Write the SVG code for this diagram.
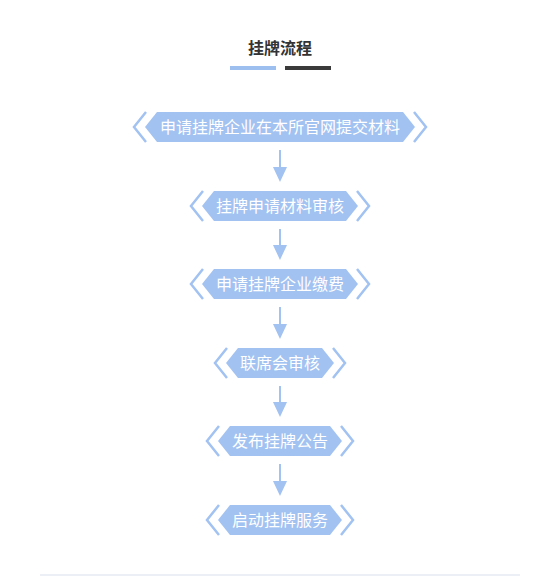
<svg xmlns="http://www.w3.org/2000/svg" width="550" height="576" viewBox="0 0 550 576">
<style>
.hex{fill:#a2c2f1;}
.chev{fill:none;stroke:#a2c2f1;stroke-width:2.5;stroke-linejoin:miter;}
.lbl{font-family:"Noto Sans CJK SC","Noto Sans",sans-serif;font-size:16px;fill:#ffffff;text-anchor:middle;}
.title{font-family:"Noto Sans CJK SC","Noto Sans",sans-serif;font-size:16px;font-weight:bold;fill:#333333;text-anchor:middle;}
.shaft{stroke:#a2c2f1;stroke-width:2;}
.head{fill:#a2c2f1;}
</style>
<rect x="0" y="0" width="550" height="576" fill="#ffffff"/>
<g id="title">
<text class="title" x="280" y="54">挂牌流程</text>
<rect x="230" y="66" width="46" height="4" fill="#9dbff0"/>
<rect x="285" y="66" width="46" height="4" fill="#3a3a3a"/>
</g>
<g id="node1">
<polygon class="hex" points="145,127 157,112 403,112 415,127 403,142 157,142"/>
<polyline class="chev" points="146,112 134,127 146,142"/>
<polyline class="chev" points="414,112 426,127 414,142"/>
<text class="lbl" x="280" y="133">申请挂牌企业在本所官网提交材料</text>
</g>
<g id="node2">
<polygon class="hex" points="202,206 214,191 346,191 358,206 346,221 214,221"/>
<polyline class="chev" points="203,191 191,206 203,221"/>
<polyline class="chev" points="357,191 369,206 357,221"/>
<text class="lbl" x="280" y="212">挂牌申请材料审核</text>
</g>
<g id="node3">
<polygon class="hex" points="202,284 214,269 346,269 358,284 346,299 214,299"/>
<polyline class="chev" points="203,269 191,284 203,299"/>
<polyline class="chev" points="357,269 369,284 357,299"/>
<text class="lbl" x="280" y="290">申请挂牌企业缴费</text>
</g>
<g id="node4">
<polygon class="hex" points="226,363 238,348 322,348 334,363 322,378 238,378"/>
<polyline class="chev" points="227,348 215,363 227,378"/>
<polyline class="chev" points="333,348 345,363 333,378"/>
<text class="lbl" x="280" y="369">联席会审核</text>
</g>
<g id="node5">
<polygon class="hex" points="218,441 230,426 330,426 342,441 330,456 230,456"/>
<polyline class="chev" points="219,426 207,441 219,456"/>
<polyline class="chev" points="341,426 353,441 341,456"/>
<text class="lbl" x="280" y="447">发布挂牌公告</text>
</g>
<g id="node6">
<polygon class="hex" points="218,520 230,505 330,505 342,520 330,535 230,535"/>
<polyline class="chev" points="219,505 207,520 219,535"/>
<polyline class="chev" points="341,505 353,520 341,535"/>
<text class="lbl" x="280" y="526">启动挂牌服务</text>
</g>
<g id="connectors">
<line class="shaft" x1="280" y1="150" x2="280" y2="168"/>
<polygon class="head" points="273,167 287,167 280,182"/>
<line class="shaft" x1="280" y1="229" x2="280" y2="246"/>
<polygon class="head" points="273,245 287,245 280,260"/>
<line class="shaft" x1="280" y1="307" x2="280" y2="325"/>
<polygon class="head" points="273,324 287,324 280,339"/>
<line class="shaft" x1="280" y1="386" x2="280" y2="403"/>
<polygon class="head" points="273,402 287,402 280,417"/>
<line class="shaft" x1="280" y1="464" x2="280" y2="482"/>
<polygon class="head" points="273,481 287,481 280,496"/>
</g>
<line x1="40" y1="575" x2="520" y2="575" stroke="#e6ebf3" stroke-width="1.5"/>
</svg>
